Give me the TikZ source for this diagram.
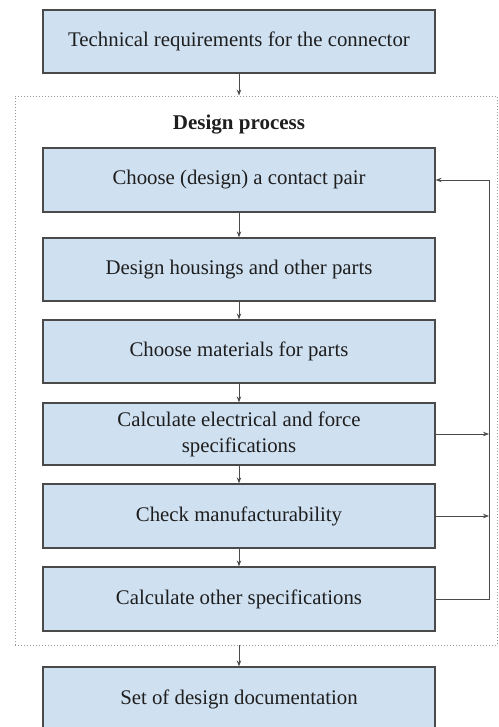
\documentclass[tikz,border=0pt]{standalone}
\usepackage{fontspec}
\setmainfont{Liberation Serif}
\usetikzlibrary{arrows.meta}
\definecolor{boxfill}{HTML}{CFE0F1}
\definecolor{boxline}{HTML}{4A4A4A}
\definecolor{ink}{HTML}{1E1E1E}
\tikzset{
  stepbox/.style={draw=boxline, line width=1.3pt, fill=boxfill, text=ink,
    minimum width=392pt, inner sep=0pt, align=center,
    font=\fontsize{20.8}{26}\selectfont},
  arr/.style={draw=boxline, line width=0.9pt,
    -{Stealth[length=6pt,width=4.5pt]}},
  frame/.style={draw=gray!80, line width=0.9pt, dash pattern=on 1pt off 2pt}
}
\begin{document}
\begin{tikzpicture}[x=1pt,y=-1pt]
\useasboundingbox (0,0) rectangle (498,727);
\fill[white] (0,0) rectangle (498,727);

% dotted frame around the design process
\node[frame, minimum width=482pt, minimum height=549pt, inner sep=0pt] (frame) at (256,370.5) {};
\node[text=ink, font=\fontsize{21}{26}\selectfont\bfseries] (title) at (239,125) {Design process};

% process steps
\node[stepbox, minimum height=63pt] (b0) at (239,41.5) {Technical requirements for the connector};
\node[stepbox, minimum height=64pt] (b1) at (239,180) {Choose (design) a contact pair};
\node[stepbox, minimum height=63pt] (b2) at (239,269.5) {Design housings and other parts};
\node[stepbox, minimum height=63pt] (b3) at (239,351.5) {Choose materials for parts};
\node[stepbox, minimum height=62pt] (b4) at (239,434) {Calculate electrical and force\\specifications};
\node[stepbox, minimum height=64pt] (b5) at (239,516) {Check manufacturability};
\node[stepbox, minimum height=64pt] (b6) at (239,599) {Calculate other specifications};
\node[stepbox, minimum height=64pt] (b7) at (239,699) {Set of design documentation};

% main flow
\draw[arr] (b0.south) -- (b0.south |- frame.north);
\draw[arr] (b1) -- (b2);
\draw[arr] (b2) -- (b3);
\draw[arr] (b3) -- (b4);
\draw[arr] (b4) -- (b5);
\draw[arr] (b5) -- (b6);
\draw[arr] (b7.north |- frame.south) -- (b7.north);

% feedback rail
\coordinate (rail) at (489,0);
\draw[arr] (b6.east) -- (b6.east -| rail) -- (b1.east -| rail) -- (b1.east);
\draw[arr] (b4.east) -- (b4.east -| rail);
\draw[arr] (b5.east) -- (b5.east -| rail);
\end{tikzpicture}
\end{document}
